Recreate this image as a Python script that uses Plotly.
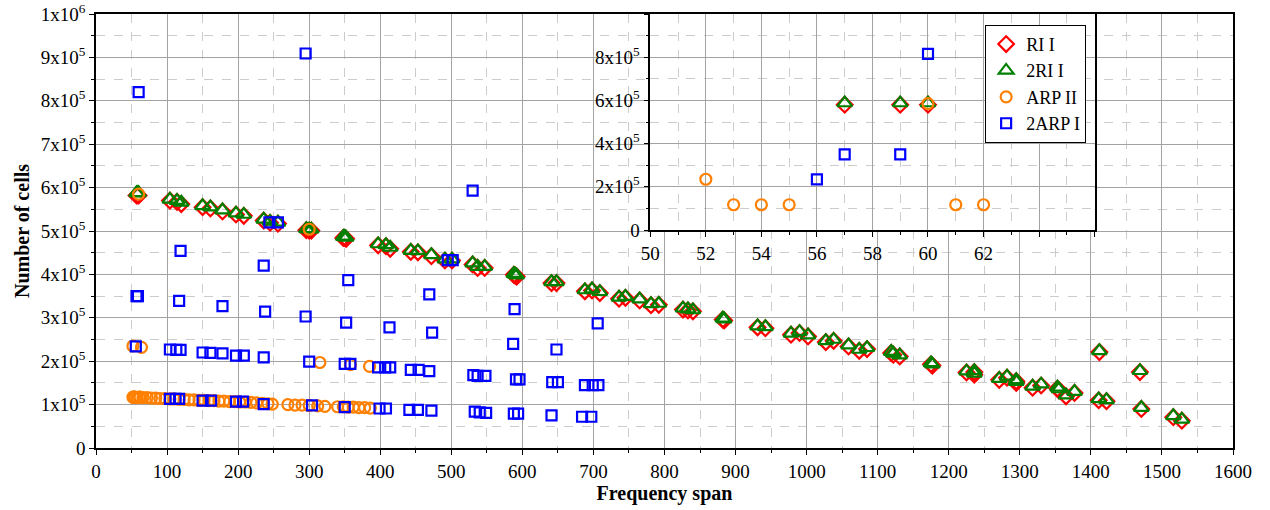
import plotly.graph_objects as go

# ---------------- data (y values in units of 1e5 cells) ----------------
ri_x = [57, 59, 60, 104, 114, 120, 150, 161, 178, 197, 208, 236, 245, 256, 296, 300, 303,
        348, 350, 352, 397, 408, 414, 443, 453, 472, 491, 501, 530, 537, 547, 588, 590, 592,
        641, 648, 688, 698, 709, 736, 745, 765, 781, 792, 826, 833, 840, 882, 884, 931, 942,
        978, 990, 1002, 1027, 1038, 1059, 1074, 1085, 1119, 1122, 1131, 1175, 1177, 1225, 1236, 1236,
        1271, 1282, 1295, 1295, 1318, 1330, 1353, 1355, 1365, 1377, 1412, 1411, 1422, 1469, 1471, 1516, 1528]
tri_y = [5.88, 5.88, 5.88, 5.73, 5.70, 5.66, 5.58, 5.55, 5.48, 5.41, 5.38, 5.27, 5.22, 5.20, 5.05, 5.04, 5.04,
         4.87, 4.87, 4.85, 4.70, 4.68, 4.62, 4.55, 4.54, 4.45, 4.35, 4.35, 4.26, 4.18, 4.18, 4.02, 4.00, 3.98,
         3.83, 3.83, 3.64, 3.66, 3.60, 3.47, 3.49, 3.43, 3.32, 3.33, 3.22, 3.20, 3.18, 2.99, 2.97, 2.81, 2.79,
         2.64, 2.68, 2.60, 2.47, 2.50, 2.37, 2.27, 2.31, 2.22, 2.18, 2.14, 1.96, 1.93, 1.77, 1.78, 1.72,
         1.60, 1.65, 1.57, 1.53, 1.42, 1.47, 1.40, 1.36, 1.22, 1.30, 2.24, 1.13, 1.11, 1.78, 0.93, 0.74, 0.66]
ri_y = [5.82, 5.82, 5.82, 5.70, 5.67, 5.62, 5.55, 5.52, 5.45, 5.38, 5.35, 5.24, 5.19, 5.17, 5.02, 5.01, 5.01,
        4.84, 4.84, 4.82, 4.67, 4.65, 4.59, 4.52, 4.51, 4.42, 4.32, 4.32, 4.23, 4.15, 4.15, 3.99, 3.97, 3.95,
        3.80, 3.80, 3.61, 3.63, 3.57, 3.44, 3.46, 3.40, 3.29, 3.30, 3.19, 3.17, 3.15, 2.96, 2.94, 2.78, 2.76,
        2.61, 2.65, 2.57, 2.44, 2.47, 2.34, 2.24, 2.28, 2.19, 2.15, 2.11, 1.93, 1.90, 1.74, 1.75, 1.69,
        1.57, 1.62, 1.54, 1.50, 1.39, 1.44, 1.37, 1.33, 1.19, 1.27, 2.21, 1.10, 1.08, 1.75, 0.90, 0.71, 0.63]

arp_x = [52, 60, 64, 300, 315, 358, 385,
         52, 53, 54, 55, 58, 61, 62, 66, 72, 78, 84, 90, 97, 104, 110, 117, 124, 131, 138, 145,
         152, 159, 166, 173, 180, 188, 195, 202, 210, 218, 226, 234, 242, 248, 270, 280, 290, 300,
         312, 322, 340, 348, 355, 362, 370, 378, 386]
arp_y = [2.35, 5.85, 2.32, 5.04, 1.97, 1.92, 1.88,
         1.17, 1.17, 1.17, 1.17, 1.16, 1.17, 1.17, 1.16, 1.16, 1.15, 1.15, 1.14, 1.14, 1.13, 1.13, 1.12,
         1.12, 1.11, 1.11, 1.10, 1.10, 1.09, 1.09, 1.08, 1.08, 1.07, 1.07, 1.06, 1.06, 1.05, 1.04, 1.03,
         1.02, 1.01, 1.00, 0.99, 0.99, 0.98, 0.97, 0.96, 0.95, 0.95, 0.94, 0.94, 0.93, 0.93, 0.92]

sq_x = [56, 57, 59, 60, 104, 113, 119, 104, 112, 117, 119, 117, 150, 161, 178, 150, 162, 178,
        197, 208, 197, 207, 236, 238, 236, 236, 244, 256, 295, 295, 300, 304,
        355, 352, 350, 358, 350, 397, 407, 414, 413, 399, 408,
        443, 454, 469, 469, 473, 441, 453, 472, 495, 502,
        530, 531, 537, 548, 533, 540, 549, 589, 587, 591, 596, 588, 594,
        648, 642, 650, 641, 706, 688, 699, 707, 684, 697]
sq_y = [2.34, 3.50, 3.50, 8.20, 2.27, 2.26, 2.26, 1.13, 1.13, 1.13, 4.54, 3.39, 2.20, 2.19, 2.18, 1.09, 1.09, 3.27,
        2.13, 2.13, 1.07, 1.07, 4.20, 3.14, 2.09, 1.01, 5.20, 5.20, 9.09, 3.03, 1.99, 0.98,
        3.87, 2.89, 1.94, 1.94, 0.94, 1.86, 1.86, 1.86, 2.78, 0.91, 0.91,
        1.80, 1.80, 1.77, 3.54, 2.66, 0.88, 0.88, 0.86, 4.33, 4.33,
        5.93, 1.68, 1.66, 1.66, 0.84, 0.82, 0.81, 3.20, 2.40, 1.58, 1.58, 0.79, 0.79,
        2.27, 1.52, 1.52, 0.75, 2.87, 1.45, 1.45, 1.45, 0.72, 0.72]

# inset data (zoom on frequency span 50-62)
in_ri_x = [57, 59, 60]
in_ri_y = [5.80, 5.80, 5.80]
in_tri_y = [5.88, 5.88, 5.88]
in_arp_x = [52, 53, 54, 55, 60, 61, 62]
in_arp_y = [2.35, 1.17, 1.17, 1.17, 5.85, 1.17, 1.17]
in_sq_x = [56, 57, 59, 60]
in_sq_y = [2.34, 3.50, 3.50, 8.15]

main_xticks = list(range(0, 1700, 100))
main_yticks = [i * 1e5 for i in range(11)]
main_ytext = ["0"] + [f"{i}x10<sup>5</sup>" for i in range(1, 10)] + ["1x10<sup>6</sup>"]
inset_xticks = list(range(50, 68, 2))
inset_xtext = [str(v) if v <= 62 else "" for v in inset_xticks]
inset_yticks = [i * 2e5 for i in range(6)]
inset_ytext = ["0", "2x10<sup>5</sup>", "4x10<sup>5</sup>", "6x10<sup>5</sup>", "8x10<sup>5</sup>", ""]

series = [
    ("RI I", "diamond-open", "#ff0000", 12),
    ("2RI I", "triangle-up-open", "#008000", 13),
    ("ARP II", "circle-open", "#ff8000", 11),
    ("2ARP I", "square-open", "#0000ff", 10),
]
main_data = [(ri_x, ri_y), (ri_x, tri_y), (arp_x, arp_y), (sq_x, sq_y)]
inset_data = [(in_ri_x, in_ri_y), (in_ri_x, in_tri_y), (in_arp_x, in_arp_y), (in_sq_x, in_sq_y)]

FONT = "Liberation Serif"
fig = go.Figure()
for (name, sym, col, size), (xs, ys) in zip(series, main_data):
    fig.add_trace(go.Scatter(x=xs, y=[v * 1e5 for v in ys], mode="markers", name=name,
                             marker=dict(symbol=sym, color=col, size=size, line=dict(width=2.2, color=col)),
                             xaxis="x", yaxis="y"))
for (name, sym, col, size), (xs, ys) in zip(series, inset_data):
    fig.add_trace(go.Scatter(x=xs, y=[v * 1e5 for v in ys], mode="markers", name=name, showlegend=False,
                             marker=dict(symbol=sym, color=col, size=size, line=dict(width=2.2, color=col)),
                             xaxis="x2", yaxis="y2"))

major_grid = "#a3a3a3"
minor_grid = "#cccccc"
common = dict(showline=True, linecolor="black", linewidth=1.5, mirror=True, ticks="outside",
              ticklen=5, tickcolor="black", zeroline=False, showgrid=True, gridcolor=major_grid,
              gridwidth=1, automargin=False, ticklabeloverflow="allow",
              tickfont=dict(family=FONT, size=19, color="black"))

fig.update_layout(
    width=1270, height=510,
    margin=dict(l=96, r=37, t=14, b=62),
    paper_bgcolor="white", plot_bgcolor="white",
    font=dict(family=FONT, color="black"),
    xaxis=dict(domain=[0, 1], range=[0, 1600], tickvals=main_xticks,
               minor=dict(dtick=50, tick0=0, showgrid=True, gridcolor=minor_grid, griddash="dash",
                          ticks="outside", ticklen=3, tickcolor="black"),
               title=dict(text="<b>Frequency span</b>", font=dict(family=FONT, size=20), standoff=4),
               **common),
    yaxis=dict(domain=[0, 1], range=[0, 1e6], tickvals=main_yticks, ticktext=main_ytext,
               minor=dict(dtick=5e4, tick0=0, showgrid=True, gridcolor=minor_grid, griddash="dash",
                          ticks="outside", ticklen=3, tickcolor="black"),
               title=dict(text="<b>Number of cells</b>", font=dict(family=FONT, size=20), standoff=6),
               **common),
    xaxis2=dict(domain=[0.4875, 0.8783], anchor="y2", range=[50, 66], tickvals=inset_xticks,
                ticktext=inset_xtext,
                minor=dict(dtick=1, tick0=50, showgrid=True, gridcolor=minor_grid, griddash="dash",
                           ticks="outside", ticklen=3, tickcolor="black"),
                **common),
    yaxis2=dict(domain=[0.5023, 1.0], anchor="x2", range=[0, 1e6], tickvals=inset_yticks,
                ticktext=inset_ytext,
                minor=dict(dtick=1e5, tick0=0, showgrid=True, gridcolor=minor_grid, griddash="dash",
                           ticks="outside", ticklen=3, tickcolor="black"),
                **common),
    legend=dict(x=0.782, y=0.975, xanchor="left", yanchor="top", bgcolor="white",
                bordercolor="black", borderwidth=1, font=dict(family=FONT, size=18, color="black"),
                itemwidth=30),
    showlegend=True,
)

# remove the default page margin so the figure sits at the window's top-left corner
fig.write_html("out.html", config={"displayModeBar": False},
               post_script="document.body.style.margin='0px';")
